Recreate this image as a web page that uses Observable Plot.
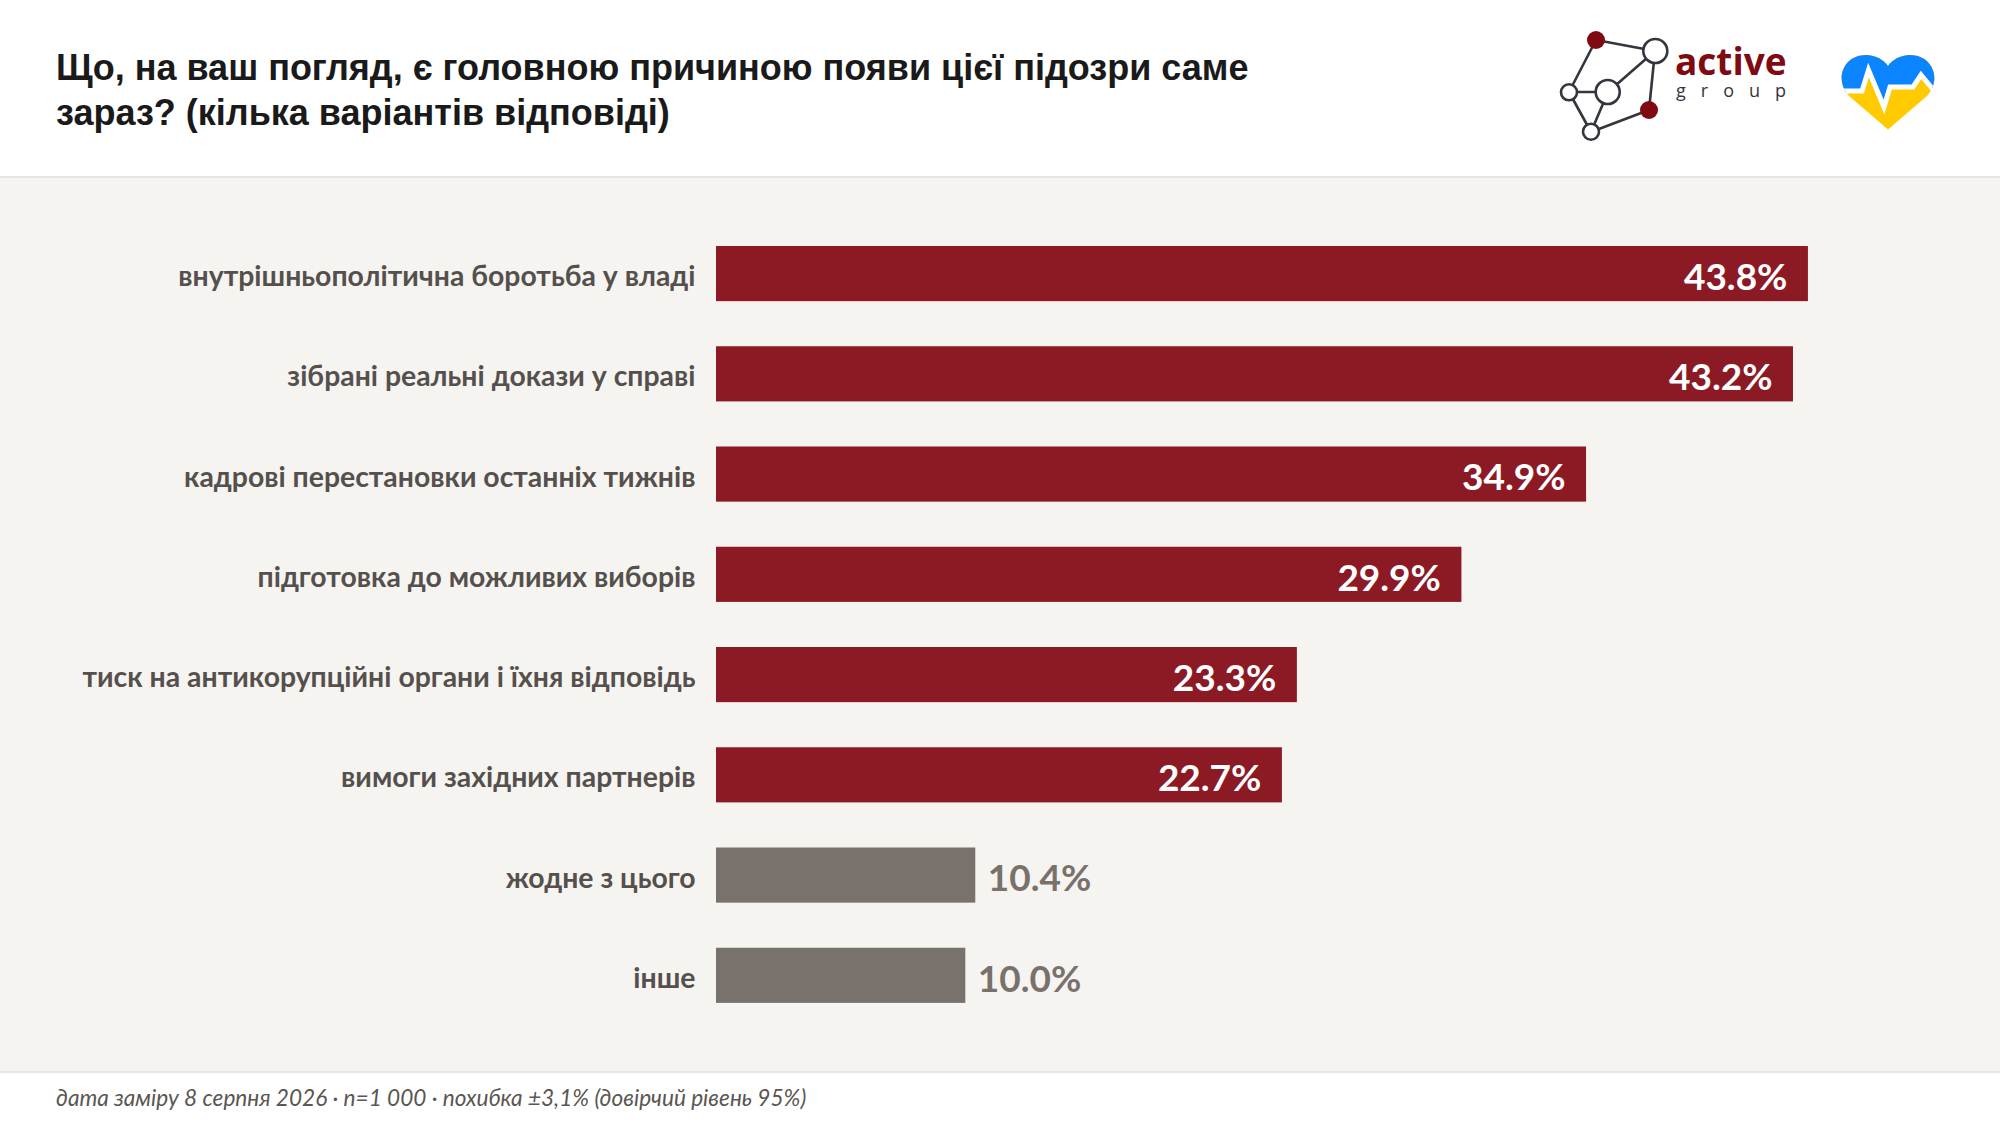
<!DOCTYPE html>
<html lang="uk">
<head>
<meta charset="utf-8">
<script src="https://cdn.jsdelivr.net/npm/d3@7"></script>
<script src="https://cdn.jsdelivr.net/npm/@observablehq/plot@0.6"></script>
<style>
html,body{margin:0;padding:0;background:#fff;width:2000px;height:1126px;overflow:hidden}
#header{position:relative;height:176px;background:#fff;border-bottom:2px solid #e6e5e1;box-sizing:content-box}
#title{position:absolute;left:56px;top:46px;width:1280px;margin:0;font:bold 36px/44.5px "Liberation Sans",Arial,sans-serif;color:#1a1a1a}
#logo{position:absolute;left:0;top:0}
#chart{height:893px;background:#f5f4f0}
#chart svg{display:block}
#footer{height:53px;background:#fff;border-top:2px solid #e6e5e1;position:relative}
#footer p{position:absolute;left:56px;top:11px;margin:0;font:italic 22.6px Lato,sans-serif;color:#5a5652}
</style>
</head>
<body>
<div id="header">
<h1 id="title">Що, на ваш погляд, є головною причиною появи цієї підозри саме зараз? (кілька варіантів відповіді)</h1>
<svg id="logo" width="2000" height="176" viewBox="0 0 2000 176">
<defs><clipPath id="heartClip"><path d="M1888 129.5 L1849 96 C1834 80 1843 55 1866 55 C1876 55 1884 60 1888 66 C1892 60 1900 55 1910 55 C1933 55 1942 80 1927 96 Z"/></clipPath></defs>
<g stroke="#33363d" stroke-width="2.6" fill="none">
<path d="M1596 40L1655 51M1596 40L1569 92M1569 92L1608 92M1569 92L1591 132M1608 92L1655 51M1608 92L1591 132M1655 51L1649 110M1649 110L1591 132"/>
<g fill="#fff"><circle cx="1655.3" cy="51" r="12"/><circle cx="1569" cy="92.3" r="8"/><circle cx="1607.7" cy="92" r="12"/><circle cx="1591" cy="131.7" r="8"/></g>
</g>
<circle cx="1596" cy="40" r="9" fill="#7f0a12"/><circle cx="1649" cy="110" r="9" fill="#7f0a12"/>
<text x="1675" y="75" font-family="Open Sans" font-weight="700" font-size="37" fill="#7f0a12">active</text>
<text x="1676" y="97" font-family="Open Sans" font-size="18" fill="#33363d" letter-spacing="15">group</text>
<g clip-path="url(#heartClip)">
<rect x="1835" y="50" width="105" height="85" fill="#ffcb00"/>
<path d="M1835 92L1862 92L1868 70L1884 107L1890 87L1913 87L1921 75L1940 98L1940 50L1835 50Z" fill="#0a85ff"/>
<path d="M1835 91L1862 91L1868.5 70L1884 107L1890 87L1913 87L1921 75L1940 98" fill="none" stroke="#fff" stroke-width="5"/>
</g>
</svg>
</div>
<div id="chart"></div>
<div id="footer"><p>дата заміру 8 серпня 2026 · n=1 000 · похибка ±3,1% (довірчий рівень 95%)</p></div>
<script>
const categories = ["внутрішньополітична боротьба у владі","зібрані реальні докази у справі","кадрові перестановки останніх тижнів","підготовка до можливих виборів","тиск на антикорупційні органи і їхня відповідь","вимоги західних партнерів","жодне з цього","інше"];
const values = [43.8,43.2,34.9,29.9,23.3,22.7,10.4,10.0];
const groups = ["main","main","main","main","main","main","other","other"];
const rows = categories.map((c,i)=>({category:c,value:values[i],group:groups[i]}));
const font = 'Lato, sans-serif';
const fmt = d => d.value.toFixed(1)+"%";
const chart = Plot.plot({
  width:2000,height:893,marginLeft:716,marginRight:0,marginTop:0,marginBottom:0,
  style:{background:"transparent",fontFamily:font},
  x:{domain:[0,50],range:[716,1962.5],axis:null},
  y:{domain:categories,range:[22.9,870],padding:0.45,round:false,label:null,axis:null},
  color:{domain:["main","other"],range:["#8b1a25","#79716b"]},
  marks:[
    Plot.barX(rows,{x:"value",y:"category",fill:"group"}),
    Plot.text(rows,{x:0,y:"category",text:"category",dx:-21,dy:3,textAnchor:"end",fill:"#55504d",fontSize:28.4,fontWeight:700,lineWidth:100}),
    Plot.text(rows.filter(d=>d.group==="main"),{x:"value",y:"category",text:fmt,dx:-21,dy:4,textAnchor:"end",fill:"#fff",fontSize:37,fontWeight:700}),
    Plot.text(rows.filter(d=>d.group==="other"),{x:"value",y:"category",text:fmt,dx:12,dy:4,textAnchor:"start",fill:"#79716b",fontSize:37,fontWeight:700})
  ]
});
document.getElementById("chart").append(chart);
</script>
</body>
</html>
